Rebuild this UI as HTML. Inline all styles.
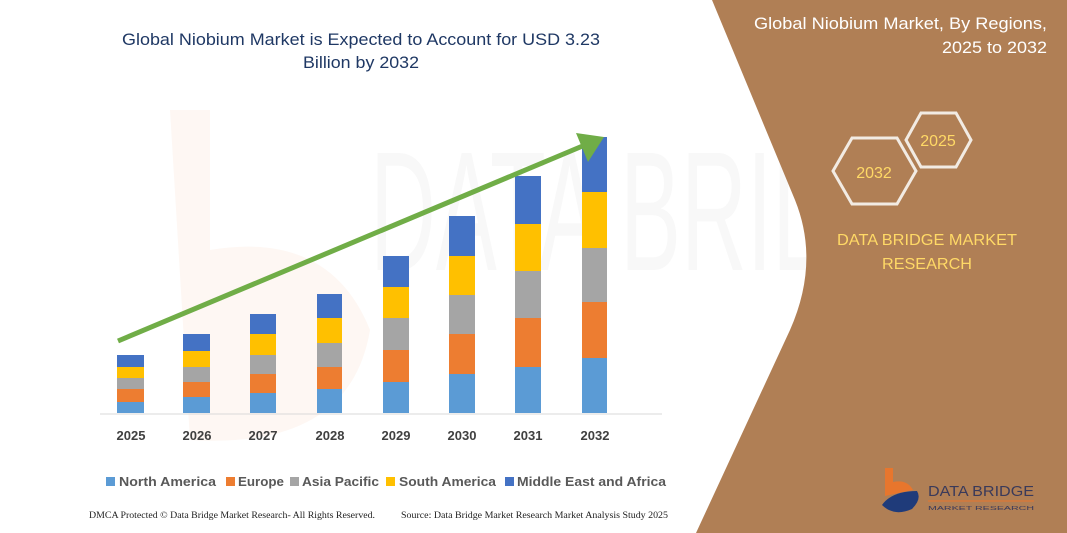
<!DOCTYPE html>
<html><head><meta charset="utf-8"><style>html,body{margin:0;padding:0;background:#fff}svg{display:block}</style></head>
<body>
<svg width="1067" height="533" viewBox="0 0 1067 533" xmlns="http://www.w3.org/2000/svg" font-family="Liberation Sans, sans-serif">
<rect width="1067" height="533" fill="#fff"/>
<!-- faint watermark -->
<text x="370" y="270" font-size="170" fill="#f8f8f8" textLength="600" lengthAdjust="spacingAndGlyphs">DATA BRIDGE</text>
<path d="M170 110 h40 v140 q120 -20 160 80 q-20 120 -180 110 z" fill="#fef7f3"/>
<!-- brown panel -->
<path d="M712 0 H1067 V533 H696 L790 330 Q820 262 795 200 Z" fill="#B07F55"/>
<text x="1047" y="29" font-size="17" fill="#fff" text-anchor="end" textLength="293" lengthAdjust="spacingAndGlyphs">Global Niobium Market, By Regions,</text>
<text x="1047" y="53" font-size="17" fill="#fff" text-anchor="end" textLength="105" lengthAdjust="spacingAndGlyphs">2025 to 2032</text>
<polygon points="906,140 921,113 956,113 971,140 956,167 921,167" fill="none" stroke="#f2ebe3" stroke-width="3"/>
<text x="938" y="146" font-size="16" fill="#FFD966" text-anchor="middle">2025</text>
<polygon points="833,171 852,138 897,138 916,171 897,204 852,204" fill="none" stroke="#f2ebe3" stroke-width="3"/>
<text x="874" y="178" font-size="16" fill="#FFD966" text-anchor="middle">2032</text>
<text x="927" y="245" font-size="16" fill="#FFD966" text-anchor="middle" textLength="180" lengthAdjust="spacingAndGlyphs">DATA BRIDGE MARKET</text>
<text x="927" y="269" font-size="16" fill="#FFD966" text-anchor="middle" textLength="90" lengthAdjust="spacingAndGlyphs">RESEARCH</text>
<!-- logo -->
<path d="M885 468 h8 v14 q14 -3 20 8 l-28 6 z" fill="#E8762D"/>
<path d="M882 505 q10 -14 35 -14 q5 8 -5 18 q-18 8 -30 -4 z" fill="#1F3B7A"/>
<text x="928" y="496" font-size="15" fill="#3a3a5a" textLength="106" lengthAdjust="spacingAndGlyphs">DATA BRIDGE</text>
<line x1="928" y1="501" x2="1034" y2="501" stroke="#E8762D" stroke-width="1"/>
<text x="928" y="510" font-size="5" fill="#3a3a5a" textLength="106" lengthAdjust="spacingAndGlyphs">MARKET RESEARCH</text>
<!-- title -->
<text x="361" y="45" font-size="17" fill="#1F3864" text-anchor="middle" textLength="478" lengthAdjust="spacingAndGlyphs">Global Niobium Market is Expected to Account for USD 3.23</text>
<text x="361" y="68" font-size="17" fill="#1F3864" text-anchor="middle" textLength="116" lengthAdjust="spacingAndGlyphs">Billion by 2032</text>
<!-- axis -->
<line x1="100" y1="414" x2="662" y2="414" stroke="#d9d9d9" stroke-width="1"/>
<g>
<rect x="117" y="402" width="27" height="11" fill="#5B9BD5"/><rect x="117" y="389" width="27" height="13" fill="#ED7D31"/><rect x="117" y="378" width="27" height="11" fill="#A5A5A5"/><rect x="117" y="367" width="27" height="11" fill="#FFC000"/><rect x="117" y="355" width="27" height="12" fill="#4472C4"/>
<rect x="183" y="397" width="27" height="16" fill="#5B9BD5"/><rect x="183" y="382" width="27" height="15" fill="#ED7D31"/><rect x="183" y="367" width="27" height="15" fill="#A5A5A5"/><rect x="183" y="351" width="27" height="16" fill="#FFC000"/><rect x="183" y="334" width="27" height="17" fill="#4472C4"/>
<rect x="250" y="393" width="26" height="20" fill="#5B9BD5"/><rect x="250" y="374" width="26" height="19" fill="#ED7D31"/><rect x="250" y="355" width="26" height="19" fill="#A5A5A5"/><rect x="250" y="334" width="26" height="21" fill="#FFC000"/><rect x="250" y="314" width="26" height="20" fill="#4472C4"/>
<rect x="317" y="389" width="25" height="24" fill="#5B9BD5"/><rect x="317" y="367" width="25" height="22" fill="#ED7D31"/><rect x="317" y="343" width="25" height="24" fill="#A5A5A5"/><rect x="317" y="318" width="25" height="25" fill="#FFC000"/><rect x="317" y="294" width="25" height="24" fill="#4472C4"/>
<rect x="383" y="382" width="26" height="31" fill="#5B9BD5"/><rect x="383" y="350" width="26" height="32" fill="#ED7D31"/><rect x="383" y="318" width="26" height="32" fill="#A5A5A5"/><rect x="383" y="287" width="26" height="31" fill="#FFC000"/><rect x="383" y="256" width="26" height="31" fill="#4472C4"/>
<rect x="449" y="374" width="26" height="39" fill="#5B9BD5"/><rect x="449" y="334" width="26" height="40" fill="#ED7D31"/><rect x="449" y="295" width="26" height="39" fill="#A5A5A5"/><rect x="449" y="256" width="26" height="39" fill="#FFC000"/><rect x="449" y="216" width="26" height="40" fill="#4472C4"/>
<rect x="515" y="367" width="26" height="46" fill="#5B9BD5"/><rect x="515" y="318" width="26" height="49" fill="#ED7D31"/><rect x="515" y="271" width="26" height="47" fill="#A5A5A5"/><rect x="515" y="224" width="26" height="47" fill="#FFC000"/><rect x="515" y="176" width="26" height="48" fill="#4472C4"/>
<rect x="582" y="358" width="25" height="55" fill="#5B9BD5"/><rect x="582" y="302" width="25" height="56" fill="#ED7D31"/><rect x="582" y="248" width="25" height="54" fill="#A5A5A5"/><rect x="582" y="192" width="25" height="56" fill="#FFC000"/><rect x="582" y="137" width="25" height="55" fill="#4472C4"/>
</g>
<!-- arrow -->
<line x1="118" y1="341" x2="585" y2="145" stroke="#70AD47" stroke-width="5"/>
<polygon points="604,137 576,133 588,162" fill="#70AD47"/>
<!-- year labels -->
<g font-size="13" font-weight="bold" fill="#404040" text-anchor="middle">
<text x="131" y="440">2025</text><text x="197" y="440">2026</text><text x="263" y="440">2027</text><text x="330" y="440">2028</text><text x="396" y="440">2029</text><text x="462" y="440">2030</text><text x="528" y="440">2031</text><text x="595" y="440">2032</text>
</g>
<!-- legend -->
<g font-size="13" font-weight="bold" fill="#595959">
<rect x="106" y="477" width="9" height="9" fill="#5B9BD5"/><text x="119" y="486" textLength="97" lengthAdjust="spacingAndGlyphs">North America</text>
<rect x="226" y="477" width="9" height="9" fill="#ED7D31"/><text x="238" y="486" textLength="46" lengthAdjust="spacingAndGlyphs">Europe</text>
<rect x="290" y="477" width="9" height="9" fill="#A5A5A5"/><text x="302" y="486" textLength="77" lengthAdjust="spacingAndGlyphs">Asia Pacific</text>
<rect x="386" y="477" width="9" height="9" fill="#FFC000"/><text x="399" y="486" textLength="97" lengthAdjust="spacingAndGlyphs">South America</text>
<rect x="505" y="477" width="9" height="9" fill="#4472C4"/><text x="517" y="486" textLength="149" lengthAdjust="spacingAndGlyphs">Middle East and Africa</text>
</g>
<!-- footer -->
<g font-family="Liberation Serif, serif" font-size="9" fill="#222">
<text x="89" y="518" textLength="286" lengthAdjust="spacingAndGlyphs">DMCA Protected © Data Bridge Market Research-  All Rights Reserved.</text>
<text x="401" y="518" textLength="267" lengthAdjust="spacingAndGlyphs">Source:  Data Bridge Market Research  Market Analysis Study 2025</text>
</g>
</svg>
</body></html>
